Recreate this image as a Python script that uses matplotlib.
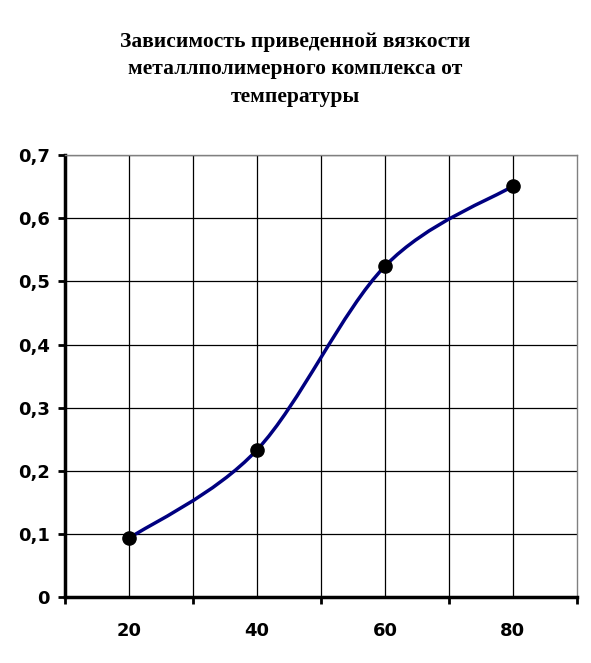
import matplotlib
matplotlib.use('Agg')
import matplotlib.pyplot as plt
from matplotlib.path import Path
from matplotlib.patches import PathPatch
import numpy as np

# данные
temps = [20, 40, 60, 80]
visc = [0.093, 0.233, 0.524, 0.651]
x_labels = ['20', '40', '60', '80']
y_ticks = [0, 0.1, 0.2, 0.3, 0.4, 0.5, 0.6, 0.7]
title = 'Зависимость приведенной вязкости\nметаллполимерного комплекса от\nтемпературы'

fig = plt.figure(figsize=(5.91, 6.63), dpi=100)
ax = fig.add_axes([0.110, 0.0995, 0.866, 0.6665])

# сглаженная линия (безье, как в Excel)
pts = np.column_stack([temps, visc])
ext = np.vstack([pts[0], pts, pts[-1]])
verts = [tuple(pts[0])]
codes = [Path.MOVETO]
for i in range(len(pts) - 1):
    p0, p1, p2, p3 = ext[i], ext[i + 1], ext[i + 2], ext[i + 3]
    c1 = p1 + (p2 - p0) / 6
    c2 = p2 - (p3 - p1) / 6
    verts += [tuple(c1), tuple(c2), tuple(p2)]
    codes += [Path.CURVE4] * 3
ax.add_patch(PathPatch(Path(verts, codes), facecolor='none', edgecolor='#000080',
                       lw=2.5, zorder=3))
ax.plot(temps, visc, 'o', color='black', markersize=9.5, zorder=4)

ax.set_xlim(10, 90)
ax.set_ylim(0, 0.7)
ax.set_xticks([10, 30, 50, 70, 90])
ax.set_xticklabels([])
ax.set_xticks(temps, minor=True)
ax.set_xticklabels(x_labels, minor=True)
ax.set_yticks(y_ticks)
ax.set_yticklabels(['0' if v == 0 else ('%.1f' % v).replace('.', ',') for v in y_ticks])
for x in range(20, 90, 10):
    ax.axvline(x, color='black', lw=0.9, zorder=1)
for y in y_ticks[1:]:
    ax.axhline(y, color='black', lw=0.9, zorder=1)

ax.tick_params(axis='both', which='major', direction='out', length=5, width=2, color='black')
ax.tick_params(axis='x', which='minor', length=0, pad=18)
ax.tick_params(axis='y', pad=6)
for lab in ax.get_xticklabels(minor=True) + ax.get_yticklabels():
    lab.set_fontfamily('DejaVu Sans')
    lab.set_fontweight('bold')
    lab.set_fontsize(13)

ax.spines['left'].set_linewidth(2.5)
ax.spines['bottom'].set_linewidth(2.5)
ax.spines['top'].set_color('#808080')
ax.spines['right'].set_color('#808080')
ax.spines['top'].set_linewidth(1)
ax.spines['right'].set_linewidth(1)

fig.text(0.50, 0.952, title, ha='center', va='top', fontsize=15.5,
         fontfamily='Liberation Serif', fontweight='bold', linespacing=1.5)

fig.savefig('out.png', dpi=100)
